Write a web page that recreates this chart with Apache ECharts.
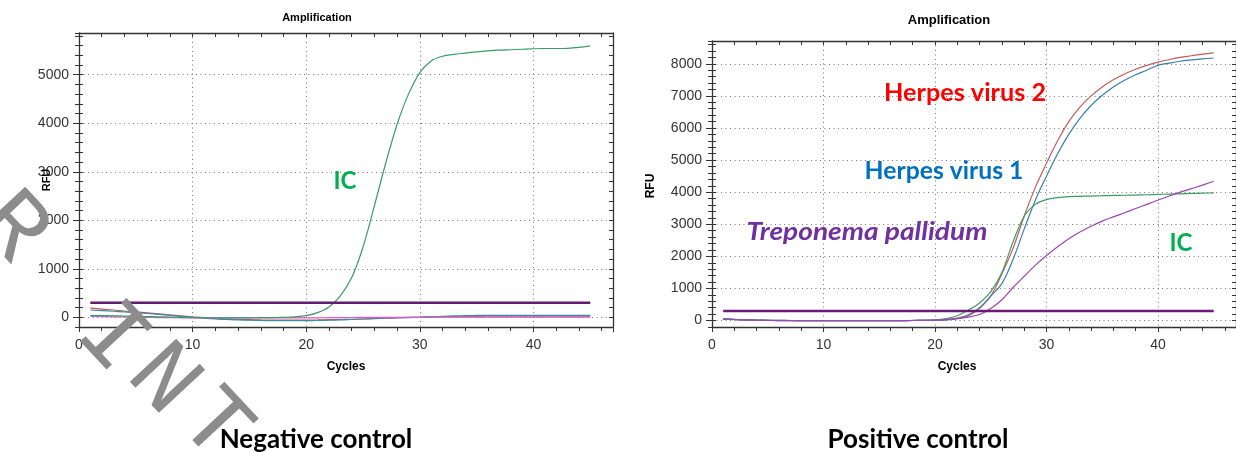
<!DOCTYPE html>
<html>
<head>
<meta charset="utf-8">
<script src="https://cdn.jsdelivr.net/npm/echarts@6/dist/echarts.min.js"></script>
<style>
  html, body { margin: 0; padding: 0; background: #fff; }
  #chart { width: 1236px; height: 452px; }
</style>
</head>
<body>
<div id="chart"></div>
<script>
// PCR cycle numbers
const cycles = [1,2,3,4,5,6,7,8,9,10,11,12,13,14,15,16,17,18,19,20,21,22,23,24,25,26,27,28,29,30,31,32,33,34,35,36,37,38,39,40,41,42,43,44,45];

// Tick labels
const xTicks = [0, 10, 20, 30, 40];
const yTicksNeg = [0, 1000, 2000, 3000, 4000, 5000];
const yTicksPos = [0, 1000, 2000, 3000, 4000, 5000, 6000, 7000, 8000];

// Threshold (RFU)
const thresholdNeg = 300;
const thresholdPos = 300;

// Negative control – RFU per cycle
const negIC   = [40,35,30,25,20,15,10,5,0,-5,-8,-10,-10,-10,-10,-8,-5,0,10,35,97,213,440,820,1450,2300,3180,3980,4600,5045,5285,5380,5420,5445,5470,5490,5505,5515,5525,5535,5540,5540,5545,5565,5595];
const negHSV2 = [190,170,150,130,110,90,70,50,30,10,-10,-25,-35,-45,-50,-55,-58,-60,-60,-58,-55,-50,-45,-40,-35,-28,-20,-12,-5,0,5,10,15,18,20,22,24,25,25,25,25,25,25,25,25];
const negHSV1 = [150,138,125,110,95,78,60,40,20,0,-20,-35,-45,-55,-60,-65,-68,-70,-70,-68,-65,-60,-55,-45,-35,-25,-15,-8,-2,3,12,20,28,34,38,40,40,40,40,40,40,40,40,40,40];
const negTP   = [20,15,10,6,2,-2,-5,-8,-10,-10,-10,-10,-10,-10,-10,-10,-10,-10,-10,-10,-10,-8,-6,-4,-2,0,0,0,0,0,2,3,4,5,5,5,5,5,5,5,5,5,5,5,5];

// Positive control – RFU per cycle
const posHSV2 = [60,40,25,15,10,5,2,0,0,0,0,0,0,0,0,0,0,2,5,10,30,80,180,400,760,1450,2250,3250,4150,4900,5600,6200,6650,7000,7280,7500,7680,7830,7950,8050,8130,8200,8250,8300,8340];
const posHSV1 = [60,40,25,15,10,5,2,0,0,0,0,0,0,0,0,0,0,2,5,10,20,60,150,380,760,1150,1900,2850,3750,4500,5200,5800,6300,6700,7020,7280,7490,7660,7800,7950,8020,8080,8120,8155,8180];
const posIC   = [50,35,20,10,5,0,0,0,0,0,0,0,0,0,0,0,0,5,10,20,60,150,330,550,900,1500,2450,3250,3620,3770,3830,3860,3870,3880,3890,3900,3905,3910,3920,3930,3940,3950,3960,3970,3980];
const posTP   = [40,30,20,10,5,0,0,0,0,0,0,0,0,0,0,0,0,3,8,15,30,60,110,190,380,650,1030,1380,1720,2025,2300,2550,2760,2940,3100,3230,3360,3490,3620,3750,3880,4000,4110,4220,4340];

const pairs = vals => cycles.map((c, i) => [c, vals[i]]);
const flat = (v) => [[cycles[0], v], [cycles[cycles.length - 1], v]];

const AXIS_COLOR = '#333';
const GRID_DOT = { color: '#777', width: 1, type: [1, 3.5] };
const LABEL_FONT = { color: '#333', fontSize: 14, fontFamily: 'Liberation Sans, Arial, sans-serif' };
const plain = v => String(v);

function xAxesFor(gridIndex) {
  return [
    {
      type: 'value', gridIndex, position: 'bottom', min: 0, max: 47, interval: 10,
      axisLine: { show: true, onZero: false, lineStyle: { color: AXIS_COLOR, width: 1.3 } },
      axisTick: { show: true, inside: false, length: 5, lineStyle: { color: AXIS_COLOR } },
      minorTick: { show: true, splitNumber: 5, length: 4, lineStyle: { color: AXIS_COLOR } },
      axisLabel: Object.assign({ customValues: xTicks, margin: 11, formatter: plain }, LABEL_FONT),
      splitLine: { show: true, lineStyle: GRID_DOT }
    },
    {
      type: 'value', gridIndex, position: 'top', min: 0, max: 47, interval: 2,
      axisLine: { show: true, onZero: false, lineStyle: { color: AXIS_COLOR, width: 1.3 } },
      axisTick: { show: true, inside: true, length: 4, lineStyle: { color: AXIS_COLOR } },
      axisLabel: { show: false }, splitLine: { show: false }
    }
  ];
}

function yAxesFor(gridIndex, max, ticks) {
  return [
    {
      type: 'value', gridIndex, position: 'left', min: -200, max,
      axisLine: { show: true, onZero: false, lineStyle: { color: AXIS_COLOR, width: 1.3 } },
      axisTick: { show: true, customValues: ticks, inside: false, length: 6, lineStyle: { color: AXIS_COLOR } },
      axisLabel: Object.assign({ customValues: ticks, margin: 10, formatter: plain }, LABEL_FONT),
      splitLine: { show: true, lineStyle: GRID_DOT }
    },
    {
      type: 'value', gridIndex, position: 'left', min: -200, max, interval: 200,
      axisLine: { show: false },
      axisTick: { show: true, inside: false, length: 4, lineStyle: { color: AXIS_COLOR } },
      axisLabel: { show: false }, splitLine: { show: false }
    },
    {
      type: 'value', gridIndex, position: 'left', min: -200, max, interval: 200,
      axisLine: { show: false },
      axisTick: { show: true, inside: true, length: 4, lineStyle: { color: AXIS_COLOR } },
      axisLabel: { show: false }, splitLine: { show: false }
    },
    {
      type: 'value', gridIndex, position: 'right', min: -200, max, interval: 200,
      axisLine: { show: true, onZero: false, lineStyle: { color: AXIS_COLOR, width: 1.3 } },
      axisTick: { show: true, inside: true, length: 4, lineStyle: { color: AXIS_COLOR } },
      axisLabel: { show: false }, splitLine: { show: false }
    }
  ];
}

function curve(name, data, color, xi, yi, width) {
  return {
    name, type: 'line', xAxisIndex: xi, yAxisIndex: yi, data,
    smooth: 0.35, showSymbol: false, silent: true,
    lineStyle: { color, width: width || 1.2 }
  };
}

const chart = echarts.init(document.getElementById('chart'), null, { renderer: 'canvas' });

// Centered text element; x/y is the anchor, optional rotation and horizontal stretch.
const txt = (text, x, y, extra, opts) => Object.assign({
  type: 'text', z: 50, x, y,
  style: Object.assign({ text, x: 0, y: 0, textAlign: 'center', textVerticalAlign: 'middle',
    fill: '#000', fontFamily: 'Liberation Sans, Arial, sans-serif', fontWeight: 'bold', fontSize: 12 }, extra)
}, opts || {});

const NOTE_FONT = 'Lato, sans-serif';
const WM = { fill: '#8c8c8c', fontFamily: 'Liberation Mono, monospace', fontWeight: 'normal', fontSize: 96 };
const WM_ROT = { rotation: -0.82, z: 100 };

chart.setOption({
  animation: false,
  backgroundColor: '#fff',
  grid: [
    { left: 79, top: 33, width: 534, height: 294, containLabel: false },
    { left: 712, top: 41, width: 531, height: 286, containLabel: false }
  ],
  xAxis: [].concat(xAxesFor(0), xAxesFor(1)),
  yAxis: [].concat(yAxesFor(0, 5860, yTicksNeg), yAxesFor(1, 8710, yTicksPos)),
  series: [
    // negative control
    curve('HSV2', pairs(negHSV2), '#c8565c', 0, 0),
    curve('HSV1', pairs(negHSV1), '#3c8ca2', 0, 0),
    curve('TP', pairs(negTP), '#d65ccc', 0, 0),
    curve('IC', pairs(negIC), '#3a9c68', 0, 0),
    curve('Threshold', flat(thresholdNeg), '#601c6e', 0, 0, 2.6),
    // positive control
    curve('HSV2', pairs(posHSV2), '#c45c5c', 2, 4),
    curve('HSV1', pairs(posHSV1), '#3a7fa6', 2, 4),
    curve('IC', pairs(posIC), '#3f9a63', 2, 4),
    curve('TP', pairs(posTP), '#9d45b2', 2, 4),
    curve('Threshold', flat(thresholdPos), '#6a1b78', 2, 4, 2.6)
  ],
  graphic: [
    txt('Amplification', 317, 18, { fontSize: 11 }),
    txt('Amplification', 949, 20, { fontSize: 13 }),
    txt('Cycles', 346, 367, { fontSize: 12 }),
    txt('Cycles', 957, 367, { fontSize: 12 }),
    txt('RFU', 47, 180, { fontSize: 11 }, { rotation: Math.PI / 2 }),
    txt('RFU', 651, 186, { fontSize: 12 }, { rotation: Math.PI / 2 }),
    txt('IC', 345, 181, { fill: '#00b050', fontFamily: NOTE_FONT, fontSize: 24 }),
    txt('Herpes virus 2', 965, 93, { fill: '#ff0000', fontFamily: NOTE_FONT, fontSize: 24 }, { scaleX: 1.05 }),
    txt('Herpes virus 1', 944, 171, { fill: '#0070c0', fontFamily: NOTE_FONT, fontSize: 24 }, { scaleX: 1.03 }),
    txt('Treponema pallidum', 867, 232, { fill: '#7030a0', fontFamily: NOTE_FONT, fontStyle: 'italic', fontSize: 24 }, { scaleX: 1.17 }),
    txt('IC', 1181, 243, { fill: '#00b050', fontFamily: NOTE_FONT, fontSize: 24 }),
    txt('Negative control', 316, 440, { fontFamily: NOTE_FONT, fontSize: 26 }),
    txt('Positive control', 918, 440, { fontFamily: NOTE_FONT, fontSize: 26 }),
    // diagonal watermark
    txt('R', 12, 228, WM, WM_ROT),
    txt('I', 112, 338, WM, WM_ROT),
    txt('N', 163, 380, WM, WM_ROT),
    txt('T', 214, 426, WM, WM_ROT)
  ]
});
</script>
</body>
</html>
